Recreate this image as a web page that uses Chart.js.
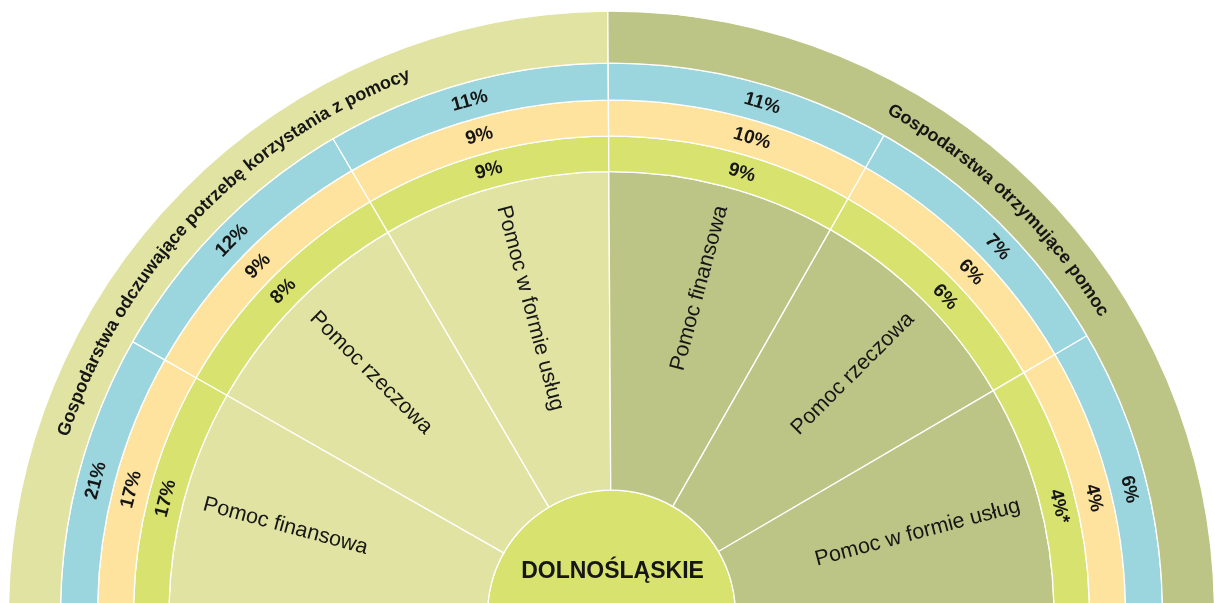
<!DOCTYPE html>
<html>
<head>
<meta charset="utf-8">
<script src="https://cdn.jsdelivr.net/npm/chart.js@4.4.1/dist/chart.umd.min.js"></script>
<style>
  html, body { margin: 0; padding: 0; background: #ffffff; }
  #wrap { position: relative; width: 1215px; height: 603px; }
</style>
</head>
<body>
<div id="wrap"><canvas id="chart"></canvas></div>
<script>
// ---------------- DATA ----------------
const regionName = 'DOLNOŚLĄSKIE';
const groups = ['Gospodarstwa odczuwające potrzebę korzystania z pomocy', 'Gospodarstwa otrzymujące pomoc'];
const categories = ['Pomoc finansowa', 'Pomoc rzeczowa', 'Pomoc w formie usług'];
// every category sector has the same angular size in the original
const groupShare = [1, 1];
const sectorShare = [1, 1, 1];
// left half: households needing help (clockwise from bottom-left)
const needRing1 = [21, 12, 11];
const needRing2 = [17, 9, 9];
const needRing3 = [17, 8, 9];
// right half: households receiving help (clockwise from top)
const recvRing1 = [11, 7, 6];
const recvRing2 = [10, 6, 4];
const recvRing3 = [9, 6, 4];
const recvRing3Notes = ['', '', '*'];

// ---------------- STYLE ----------------
const C = {
  left: '#E1E3A2',
  right: '#BCC585',
  blue: '#9BD5DE',
  peach: '#FEE39E',
  green: '#D8E26F',
  text: '#161616'
};
const FONT = '"Liberation Sans", Arial, Helvetica, sans-serif';

const ROT = -90.35;        // degrees
const R = 603;             // outer radius (px)
const CX = 611.5, CY = 614.2; // desired centre
const W = 1215, H = 603;

// Chart.js places a half doughnut with an offset; compute padding so that centre lands at (CX, CY)
const a0 = (ROT - 90) * Math.PI / 180, a1 = a0 + Math.PI;
const maxY = Math.max(Math.sin(a0), Math.sin(a1), 0);
const offY = -(maxY - 1) / 2;
const areaCY = CY - offY * R;
const padTop = 2 * areaCY - H;
const padLeft = 2 * CX - W;

const ringValues = [
  [...needRing1, ...recvRing1],
  [...needRing2, ...recvRing2],
  [...needRing3, ...recvRing3]
];
const ringNotes = [
  ['', '', '', '', '', ''],
  ['', '', '', '', '', ''],
  ['', '', '', ...recvRing3Notes]
];
const halfShare = [...sectorShare, ...sectorShare];

const deg = Math.PI / 180;

function props(el) {
  return el.getProps(['x', 'y', 'startAngle', 'endAngle', 'innerRadius', 'outerRadius'], true);
}

function curvedText(ctx, text, cx, cy, r, midAngle) {
  const chars = [...text];
  const widths = chars.map(ch => ctx.measureText(ch).width);
  const total = widths.reduce((s, w) => s + w, 0);
  let a = midAngle - total / r / 2;
  ctx.textAlign = 'center';
  ctx.textBaseline = 'alphabetic';
  chars.forEach((ch, i) => {
    const ang = a + widths[i] / 2 / r;
    ctx.save();
    ctx.translate(cx + r * Math.cos(ang), cy + r * Math.sin(ang));
    ctx.rotate(ang + Math.PI / 2);
    ctx.fillText(ch, 0, 0);
    ctx.restore();
    a += widths[i] / r;
  });
}

const textPlugin = {
  id: 'ringTexts',
  afterDatasetsDraw(chart) {
    const ctx = chart.ctx;
    ctx.save();
    ctx.fillStyle = C.text;

    // group titles in outer band
    ctx.font = 'bold 18px ' + FONT;
    chart.getDatasetMeta(0).data.forEach((el, i) => {
      const p = props(el);
      const mid = (p.startAngle + p.endAngle) / 2 - 0.9 * deg;
      const rb = (p.innerRadius + p.outerRadius) / 2 - 5.5;
      curvedText(ctx, groups[i], p.x, p.y, rb, mid);
    });

    // percentage labels in the three rings
    ctx.font = 'bold 19px ' + FONT;
    ctx.textAlign = 'center';
    ctx.textBaseline = 'middle';
    for (let k = 0; k < 3; k++) {
      chart.getDatasetMeta(k + 1).data.forEach((el, i) => {
        const p = props(el);
        const shift = i < 3 ? -0.1 * deg : 1.8 * deg;
        const ang = (p.startAngle + p.endAngle) / 2 + shift;
        const r = (p.innerRadius + p.outerRadius) / 2;
        ctx.save();
        ctx.translate(p.x + r * Math.cos(ang), p.y + r * Math.sin(ang));
        ctx.rotate(ang + Math.PI / 2);
        ctx.fillText(ringValues[k][i] + '%' + ringNotes[k][i], 0, 0);
        ctx.restore();
      });
    }

    // category names in the inner sectors
    ctx.font = '21.5px ' + FONT;
    ctx.textBaseline = 'middle';
    chart.getDatasetMeta(4).data.forEach((el, i) => {
      const p = props(el);
      const ang = (p.startAngle + p.endAngle) / 2 + 0.45 * deg;
      const r = p.outerRadius - 20;
      ctx.save();
      ctx.translate(p.x + r * Math.cos(ang), p.y + r * Math.sin(ang));
      if (i < 3) {
        ctx.rotate(ang + Math.PI);
        ctx.textAlign = 'left';
      } else {
        ctx.rotate(ang);
        ctx.textAlign = 'right';
      }
      ctx.fillText(categories[i % 3], 0, 0);
      ctx.restore();
    });

    // region name
    const c = props(chart.getDatasetMeta(5).data[0]);
    ctx.font = 'bold 23px ' + FONT;
    ctx.textAlign = 'center';
    ctx.textBaseline = 'middle';
    ctx.fillText(regionName, c.x + 1, c.y - 43);

    ctx.restore();
  }
};

new Chart(document.getElementById('chart'), {
  type: 'doughnut',
  data: {
    labels: [...categories, ...categories],
    datasets: [
      { label: 'groups', data: groupShare, backgroundColor: [C.left, C.right], weight: 52 },
      { label: 'ring1', data: halfShare, backgroundColor: C.blue, weight: 37 },
      { label: 'ring2', data: halfShare, backgroundColor: C.peach, weight: 36 },
      { label: 'ring3', data: halfShare, backgroundColor: C.green, weight: 35.5 },
      { label: 'sectors', data: halfShare, backgroundColor: [C.left, C.left, C.left, C.right, C.right, C.right], weight: 318.5 },
      { label: 'region', data: [1], backgroundColor: C.green, weight: 124 }
    ]
  },
  options: {
    responsive: true,
    maintainAspectRatio: false,
    animation: false,
    events: [],
    rotation: ROT,
    circumference: 180,
    cutout: 0,
    radius: R,
    elements: { arc: { borderColor: '#ffffff', borderWidth: 1.3 } },
    layout: { padding: { top: padTop, left: padLeft, right: 0, bottom: 0 } },
    plugins: { legend: { display: false }, tooltip: { enabled: false } }
  },
  plugins: [textPlugin]
});
</script>
</body>
</html>
